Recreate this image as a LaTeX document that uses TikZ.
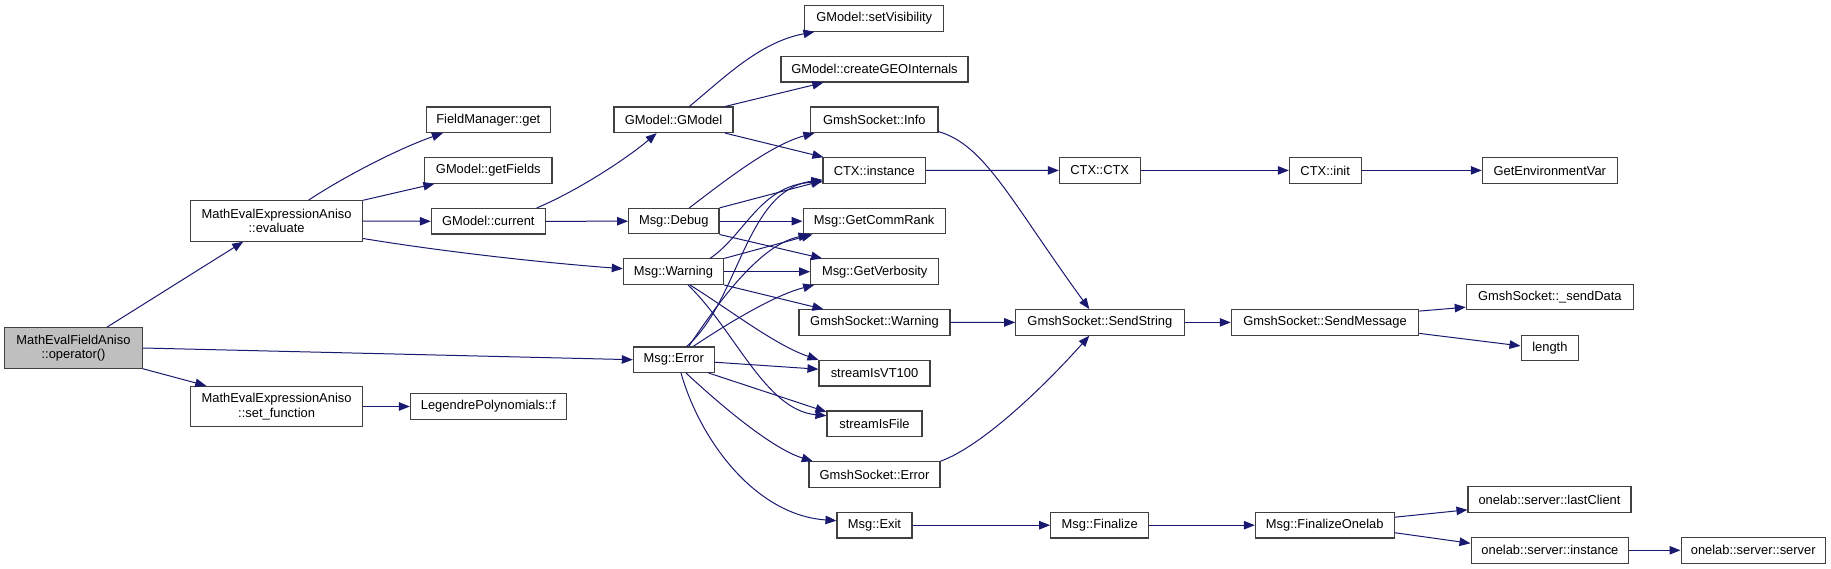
\documentclass[tikz,border=0pt]{standalone}
\usepackage{fontspec}
\setmainfont{Liberation Sans}
\usetikzlibrary{arrows.meta}
\definecolor{edgeblue}{HTML}{191970}
\definecolor{boxgray}{HTML}{404040}
\definecolor{rootfill}{HTML}{BFBFBF}
\newcommand\dxfont{\fontsize{12.9pt}{14.4pt}\selectfont}
\tikzset{
  box/.style={draw=boxgray, line width=1.1pt, fill=white, inner sep=0pt, minimum height=25.5pt, font=\dxfont, align=center},
  tall/.style={minimum height=40.4pt},
  root/.style={fill=rootfill},
  e/.style={draw=edgeblue, line width=1pt, -{Triangle[length=11pt,width=8.5pt]}}
}
\begin{document}
\begin{tikzpicture}[x=1pt,y=-1pt]
\useasboundingbox (0,0) rectangle (1831,569);
% column 0-2
\node[box,tall,root,minimum width=137.6pt] (op) at (73.5,348) {MathEvalFieldAniso\\::operator()};
\node[box,tall,minimum width=172pt] (eval) at (276.6,221) {MathEvalExpressionAniso\\::evaluate};
\node[box,tall,minimum width=172pt] (setf) at (276.6,406.5) {MathEvalExpressionAniso\\::set\_function};
\node[box,minimum width=124.2pt] (fmget) at (488.3,119.8) {FieldManager::get};
\node[box,minimum width=127.3pt] (getFields) at (488.3,170.5) {GModel::getFields};
\node[box,minimum width=113.9pt] (current) at (488.3,221.3) {GModel::current};
\node[box,minimum width=155.8pt] (legendre) at (488.3,406.5) {LegendrePolynomials::f};
% column 3
\node[box,minimum width=119pt] (gmodel) at (673.5,119.8) {GModel::GModel};
\node[box,minimum width=90.3pt] (debug) at (673.8,221.2) {Msg::Debug};
\node[box,minimum width=100.4pt] (warning) at (673.5,271.7) {Msg::Warning};
\node[box,minimum width=80.7pt] (error) at (673.7,359.7) {Msg::Error};
% column 4
\node[box,minimum width=139pt] (setVis) at (874.2,18.5) {GModel::setVisibility};
\node[box,minimum width=187pt] (createGEO) at (874.5,69.3) {GModel::createGEOInternals};
\node[box,minimum width=127.3pt] (info) at (874.3,119.8) {GmshSocket::Info};
\node[box,minimum width=102.7pt] (ctxinst) at (874.3,170.5) {CTX::instance};
\node[box,minimum width=142.3pt] (commrank) at (874.2,221.2) {Msg::GetCommRank};
\node[box,minimum width=128pt] (verbosity) at (874.7,271.7) {Msg::GetVerbosity};
\node[box,minimum width=151pt] (gsWarning) at (874.5,322.5) {GmshSocket::Warning};
\node[box,minimum width=111pt] (vt100) at (874.5,373.2) {streamIsVT100};
\node[box,minimum width=95pt] (isFile) at (874.5,423.7) {streamIsFile};
\node[box,minimum width=131pt] (gsError) at (874.5,474.5) {GmshSocket::Error};
\node[box,minimum width=75pt] (exit) at (874.5,525.2) {Msg::Exit};
% column 5-6
\node[box,minimum width=80.7pt] (ctxctx) at (1099.7,170.4) {CTX::CTX};
\node[box,minimum width=168.3pt] (sendString) at (1099.9,322.4) {GmshSocket::SendString};
\node[box,minimum width=98pt] (finalize) at (1099.7,525.2) {Msg::Finalize};
\node[box,minimum width=71.7pt] (ctxinit) at (1325.2,170.4) {CTX::init};
\node[box,minimum width=187.4pt] (sendMessage) at (1325,322.4) {GmshSocket::SendMessage};
\node[box,minimum width=138.7pt] (finalizeOnelab) at (1324.7,525.2) {Msg::FinalizeOnelab};
% column 7-8
\node[box,minimum width=135pt] (getEnv) at (1549.8,170.4) {GetEnvironmentVar};
\node[box,minimum width=167pt] (sendData) at (1549.8,297.2) {GmshSocket::\_sendData};
\node[box,minimum width=57.7pt] (length) at (1549.9,347.9) {length};
\node[box,minimum width=163pt] (lastClient) at (1549.5,499.5) {onelab::server::lastClient};
\node[box,minimum width=157.7pt] (olInstance) at (1549.9,550.3) {onelab::server::instance};
\node[box,minimum width=144.3pt] (olServer) at (1753.2,550.3) {onelab::server::server};
% edges
\draw[e] ([xshift=33.3pt]op.north) -- ([xshift=-33.4pt]eval.south);
\draw[e] (op.east) -- (error.west);
\draw[e] (op.south east) -- ([xshift=16.2pt]setf.north west);
\draw[e] ([xshift=31.8pt]eval.north) .. controls (345,176) and (400,148) .. ([xshift=-45.4pt]fmget.south);
\draw[e] (eval.north east) -- ([xshift=10.3pt]getFields.south west);
\draw[e] (eval.east) -- (current.west);
\draw[e] ([yshift=-17.5pt]eval.east) .. controls (420,248) and (520,261) .. ([yshift=3pt]warning.west);
\draw[e] (setf.east) -- (legendre.west);
\draw[e] ([xshift=48.3pt]current.north) .. controls (575,192) and (625,160) .. ([xshift=-16.8pt]gmodel.south);
\draw[e] (current.east) -- (debug.west);
\draw[e] ([xshift=15.8pt]gmodel.north) .. controls (725,77) and (760,42) .. ([xshift=10.3pt]setVis.south west);
\draw[e] ([xshift=51.5pt]gmodel.north) -- ([xshift=-51.2pt]createGEO.south);
\draw[e] ([xshift=51.5pt]gmodel.south) -- ([xshift=1pt]ctxinst.north west);
\draw[e] ([xshift=15.5pt]debug.north) .. controls (722,183) and (770,145) .. ([xshift=4.3pt]info.south west);
\draw[e] (debug.north east) -- ([yshift=3pt]ctxinst.south west);
\draw[e] (debug.east) -- (commrank.west);
\draw[e] (debug.south east) -- ([xshift=12pt]verbosity.north west);
\draw[e] ([xshift=36.5pt]warning.north) .. controls (745,235) and (760,185) .. ([yshift=2pt]ctxinst.south west);
\draw[e] (warning.north east) -- ([xshift=10pt]commrank.south west);
\draw[e] (warning.east) -- (verbosity.west);
\draw[e] (warning.south east) -- ([xshift=25pt]gsWarning.north west);
\draw[e] ([xshift=16.5pt]warning.south) .. controls (730,310) and (775,345) .. (vt100.north west);
\draw[e] ([xshift=14.5pt]warning.south) .. controls (735,330) and (765,410) .. ([yshift=8pt]isFile.west);
\draw[e] ([xshift=13pt]error.north) .. controls (740,300) and (745,190) .. ([yshift=4pt]ctxinst.south west);
\draw[e] ([xshift=15pt]error.north) .. controls (720,300) and (760,245) .. ([xshift=7pt]commrank.south west);
\draw[e] ([xshift=19.5pt]error.north) .. controls (730,322) and (775,295) .. ([xshift=4pt]verbosity.south west);
\draw[e] ([yshift=-2.5pt]error.east) -- ([yshift=4pt]vt100.west);
\draw[e] ([xshift=-6pt]error.south east) -- ([yshift=-1.5pt]isFile.north west);
\draw[e] ([xshift=12.3pt]error.south) .. controls (715,400) and (770,448) .. ([xshift=4.3pt]gsError.north west);
\draw[e] ([xshift=7.3pt]error.south) .. controls (700,440) and (755,515) .. ([yshift=4.5pt]exit.west);
\draw[e] (ctxinst.east) -- (ctxctx.west);
\draw[e] ([yshift=1.5pt]info.south east) .. controls (985,145) and (1010,200) .. ([xshift=-10.6pt]sendString.north);
\draw[e] (gsWarning.east) -- (sendString.west);
\draw[e] (gsError.north east) .. controls (985,445) and (1050,380) .. ([xshift=-10.6pt]sendString.south);
\draw[e] (ctxctx.east) -- (ctxinit.west);
\draw[e] (ctxinit.east) -- (getEnv.west);
\draw[e] (sendString.east) -- (sendMessage.west);
\draw[e] ([yshift=-2pt]sendMessage.north east) -- ([yshift=3.3pt]sendData.south west);
\draw[e] ([yshift=2.3pt]sendMessage.south east) -- ([yshift=2pt]length.west);
\draw[e] (exit.east) -- (finalize.west);
\draw[e] (finalize.east) -- (finalizeOnelab.west);
\draw[e] ([yshift=8pt]finalizeOnelab.east) -- ([yshift=3pt]lastClient.south west);
\draw[e] ([yshift=-7.5pt]finalizeOnelab.east) -- ([yshift=7pt]olInstance.west);
\draw[e] (olInstance.east) -- (olServer.west);
\end{tikzpicture}
\end{document}
